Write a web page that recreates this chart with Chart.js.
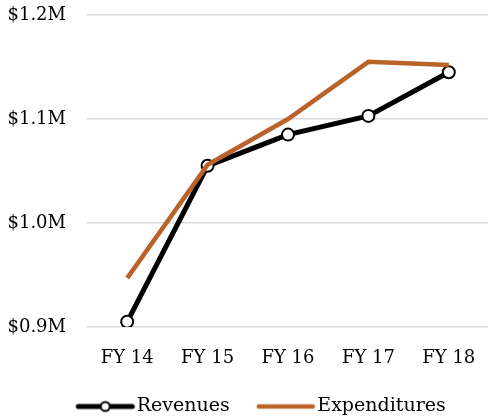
<!DOCTYPE html>
<html>
<head>
<meta charset="utf-8">
<script src="https://cdn.jsdelivr.net/npm/chart.js@4"></script>
<style>
  html, body { margin: 0; padding: 0; background: #fff; overflow: hidden; }
  #wrap { width: 497px; height: 419px; }
</style>
</head>
<body>
<div id="wrap"><canvas id="c" width="497" height="419"></canvas></div>
<script>
// data (in $ millions)
const years = ["FY 14", "FY 15", "FY 16", "FY 17", "FY 18"];
const revenues = [0.905, 1.055, 1.085, 1.103, 1.145];
const expenditures = [0.947, 1.056, 1.100, 1.155, 1.152];
const yTicks = [0.9, 1.0, 1.1, 1.2];

const FONT = "'DejaVu Serif', serif";
const ORANGE = "#b9632a";

// legend swatches: line with optional marker (a bit off-centre so it sits close to the text)
function swatch(color, width, marker) {
    const cv = document.createElement("canvas");
    cv.width = 72;
    cv.height = 14;
    const g = cv.getContext("2d");
    g.strokeStyle = color;
    g.lineWidth = width;
    g.lineCap = "round";
    g.beginPath();
    g.moveTo(13, 7);
    g.lineTo(67, 7);
    g.stroke();
    if (marker) {
        g.fillStyle = "#fff";
        g.lineWidth = 2;
        g.beginPath();
        g.arc(40, 7, 4.5, 0, Math.PI * 2);
        g.fill();
        g.stroke();
    }
    return cv;
}

// nudge the legend row to the right, like the original
const shiftLegend = {
    id: "shiftLegend",
    afterLayout(chart) {
        chart.legend.left += 8;
        chart.legend.right += 8;
    },
};

new Chart(document.getElementById("c"), {
    type: "line",
    data: {
        labels: years,
        datasets: [
            {
                label: "Revenues",
                data: revenues,
                borderColor: "#000",
                borderWidth: 5,
                pointRadius: 6,
                pointBorderWidth: 2,
                pointBackgroundColor: "#fff",
                pointBorderColor: "#000",
                tension: 0,
                order: 2,
            },
            {
                label: "Expenditures",
                data: expenditures,
                borderColor: ORANGE,
                borderWidth: 4.5,
                pointRadius: 0,
                tension: 0,
                order: 1,
            },
        ],
    },
    options: {
        responsive: false,
        animation: false,
        layout: { padding: { left: 8, right: 0, top: 15, bottom: -7 } },
        scales: {
            x: {
                offset: true,
                grid: { display: false },
                border: { display: false },
                ticks: { color: "#000", font: { family: FONT, size: 18 }, padding: 13 },
                afterFit: (s) => { s.height = 44; s.paddingLeft = 0; s.paddingRight = 0; },
            },
            y: {
                min: 0.9,
                max: 1.2,
                afterBuildTicks: (axis) => { axis.ticks = yTicks.map((v) => ({ value: v })); },
                grid: { color: "#d9d9d9", lineWidth: 1.5, drawTicks: false },
                border: { display: false },
                ticks: {
                    color: "#000",
                    font: { family: FONT, size: 18 },
                    padding: 21,
                    callback: (v) => "$" + v.toFixed(1) + "M",
                },
                afterFit: (s) => { s.width = 79; s.paddingTop = 0; s.paddingBottom = 0; },
            },
        },
        plugins: {
            tooltip: { enabled: false },
            legend: {
                display: true,
                position: "bottom",
                labels: {
                    color: "#000",
                    font: { family: FONT, size: 19 },
                    usePointStyle: true,
                    pointStyleWidth: 52,
                    padding: 26,
                    generateLabels: (chart) => [
                        { text: "Revenues", pointStyle: swatch("#000", 5, true), datasetIndex: 0, lineWidth: 0, fontColor: "#000" },
                        { text: "Expenditures", pointStyle: swatch(ORANGE, 4.5, false), datasetIndex: 1, lineWidth: 0, fontColor: "#000" },
                    ],
                },
            },
        },
    },
    plugins: [shiftLegend],
});
</script>
</body>
</html>
